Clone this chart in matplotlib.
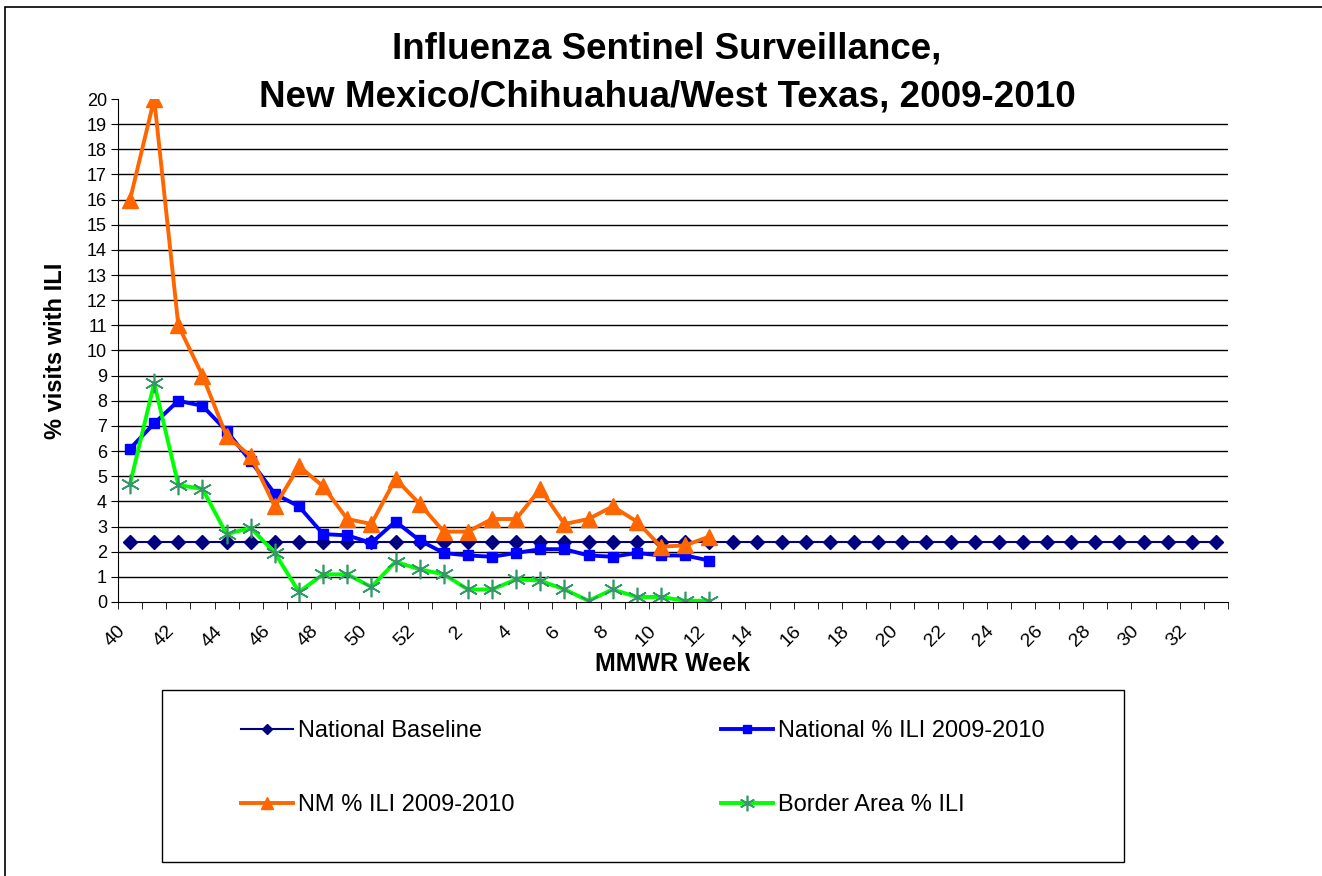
import numpy as np
import matplotlib.pyplot as plt
from matplotlib.patches import Rectangle
from matplotlib.transforms import ScaledTranslation

plt.rcParams['font.family'] = ['Liberation Sans', 'DejaVu Sans']

# MMWR weeks 40-52 of 2009, then 1-33 of 2010
weeks = list(range(40, 53)) + list(range(1, 34))
baseline = [2.4] * len(weeks)
national = [6.1, 7.1, 8.0, 7.8, 6.8, 5.6, 4.3, 3.8, 2.7, 2.65, 2.35, 3.2, 2.45, 1.95,
            1.85, 1.8, 1.95, 2.1, 2.1, 1.85, 1.8, 1.95, 1.85, 1.85, 1.65]
nm = [16, 20, 11, 9, 6.6, 5.8, 3.8, 5.4, 4.6, 3.3, 3.1, 4.9, 3.9, 2.8,
      2.8, 3.3, 3.3, 4.5, 3.1, 3.3, 3.8, 3.2, 2.2, 2.25, 2.6]
border = [4.7, 8.7, 4.65, 4.5, 2.7, 2.95, 1.95, 0.4, 1.1, 1.1, 0.6, 1.6, 1.3, 1.1,
          0.5, 0.5, 0.9, 0.85, 0.5, 0.05, 0.5, 0.2, 0.2, 0.05, 0.05]

x = np.arange(len(weeks))

fig = plt.figure(figsize=(13.22, 8.76), dpi=100)
ax = fig.add_axes([118/1322, 1-602/876, 1110/1322, 503/876])

l1, = ax.plot(x, baseline, color='#000080', lw=1.5, marker='D', ms=7,
              label='National Baseline')
l2, = ax.plot(x[:len(national)], national, color='#0000FF', lw=2.8, marker='s', ms=7.5,
              label='National % ILI 2009-2010')
l3, = ax.plot(x[:len(nm)], nm, color='#FF6600', lw=2.8, marker='^', ms=11,
              label='NM % ILI 2009-2010')
l4, = ax.plot(x[:len(border)], border, color='#00FF00', lw=2.8, marker=(6, 2, 0), ms=14,
              mec='#339966', mew=1.2, label='Border Area % ILI')

ax.set_xlim(-0.5, len(weeks) - 0.5)
ax.set_ylim(0, 20)
ax.set_yticks(range(0, 21))
ax.tick_params(axis='y', labelsize=13, length=5, direction='out', pad=3)
for v in range(1, 20):
    ax.axhline(v, color='black', lw=1, zorder=0)

ax.set_xticks(x[::2])
ax.set_xticklabels([str(w) for w in weeks[::2]], rotation=45, ha='right',
                   rotation_mode='anchor', fontsize=14)
ax.tick_params(axis='x', which='major', length=0, pad=15)
shift = ScaledTranslation(-0.13, 0, fig.dpi_scale_trans)
for lab in ax.get_xticklabels():
    lab.set_transform(lab.get_transform() + shift)
ax.set_xticks(np.arange(-0.5, len(weeks)), minor=True)
ax.tick_params(axis='x', which='minor', length=5, direction='out')

for s in ['top', 'right']:
    ax.spines[s].set_visible(False)

ax.set_ylabel('% visits with ILI', fontsize=17, fontweight='bold', labelpad=14)
ax.set_xlabel('MMWR Week', fontsize=18, fontweight='bold', labelpad=1)

fig.text(667/1322, 1-49/876, 'Influenza Sentinel Surveillance,', ha='center', va='center',
         fontsize=26.5, fontweight='bold')
fig.text(667/1322, 1-97/876, 'New Mexico/Chihuahua/West Texas, 2009-2010', ha='center',
         va='center', fontsize=26.5, fontweight='bold')

# outer chart border (left and top only visible)
fig.add_artist(Rectangle((5/1322, -0.1), 1.2, 1.1 - 7/876, transform=fig.transFigure,
                         fill=False, edgecolor='black', lw=1.2))
# legend box
fig.add_artist(Rectangle((162/1322, 1-862/876), 962/1322, 172/876, transform=fig.transFigure,
                         fill=False, edgecolor='black', lw=1))
fig.legend([l1, l3, l2, l4], [l.get_label() for l in [l1, l3, l2, l4]], ncol=2,
           loc='center', bbox_to_anchor=(643/1322, 1-768/876), frameon=False,
           fontsize=17, handlelength=2.2, handletextpad=0.2, labelspacing=2.2,
           columnspacing=8.75, markerscale=0.8)

fig.savefig('out.png', dpi=100)
